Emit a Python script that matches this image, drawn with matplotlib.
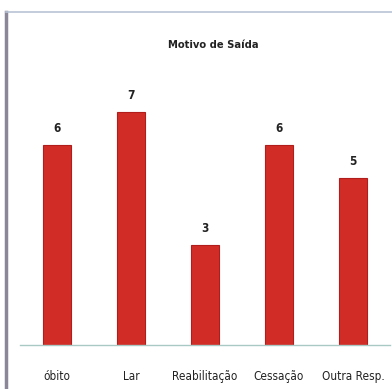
import matplotlib.pyplot as plt
from matplotlib.lines import Line2D

categorias = ['óbito', 'Lar', 'Reabilitação', 'Cessação', 'Outra Resp.']
valores = [6, 7, 3, 6, 5]

plt.rcParams['font.family'] = ['DejaVu Sans']
plt.rcParams['font.stretch'] = 'condensed'

fig = plt.figure(figsize=(3.92, 3.89), dpi=100)
ax = fig.add_axes([0.051, 0.113, 0.944, 0.728])

x = range(len(categorias))
ax.bar(x, valores, width=0.38, color='#d22c26', edgecolor='#b01d1a', linewidth=0.8, zorder=2)
for i, v in zip(x, valores):
    ax.text(i, v + 0.3, str(v), ha='center', va='bottom', fontsize=8.5, fontweight='bold', color='#222222')

ax.set_xlim(-0.5, 4.5)
ax.set_ylim(0, 8.5)
ax.set_xticks(list(x))
ax.set_xticklabels(categorias, fontsize=8.5, color='#222222')
ax.tick_params(axis='x', length=0, pad=18)
ax.set_yticks([])
for s in ['top', 'right', 'left']:
    ax.spines[s].set_visible(False)
ax.spines['bottom'].set_color('#a9c9c4')
ax.spines['bottom'].set_linewidth(1.0)

fig.text(0.545, 0.885, 'Motivo de Saída', ha='center', va='center', fontsize=8, fontweight='bold', color='#222222')

# moldura do gráfico
fig.add_artist(Line2D([0.016, 0.016], [0.0, 0.97], color='#8c8798', linewidth=2.5))
fig.add_artist(Line2D([0.016, 1.0], [0.968, 0.968], color='#b7c4d6', linewidth=1.2))

fig.savefig('out.png', dpi=100)
